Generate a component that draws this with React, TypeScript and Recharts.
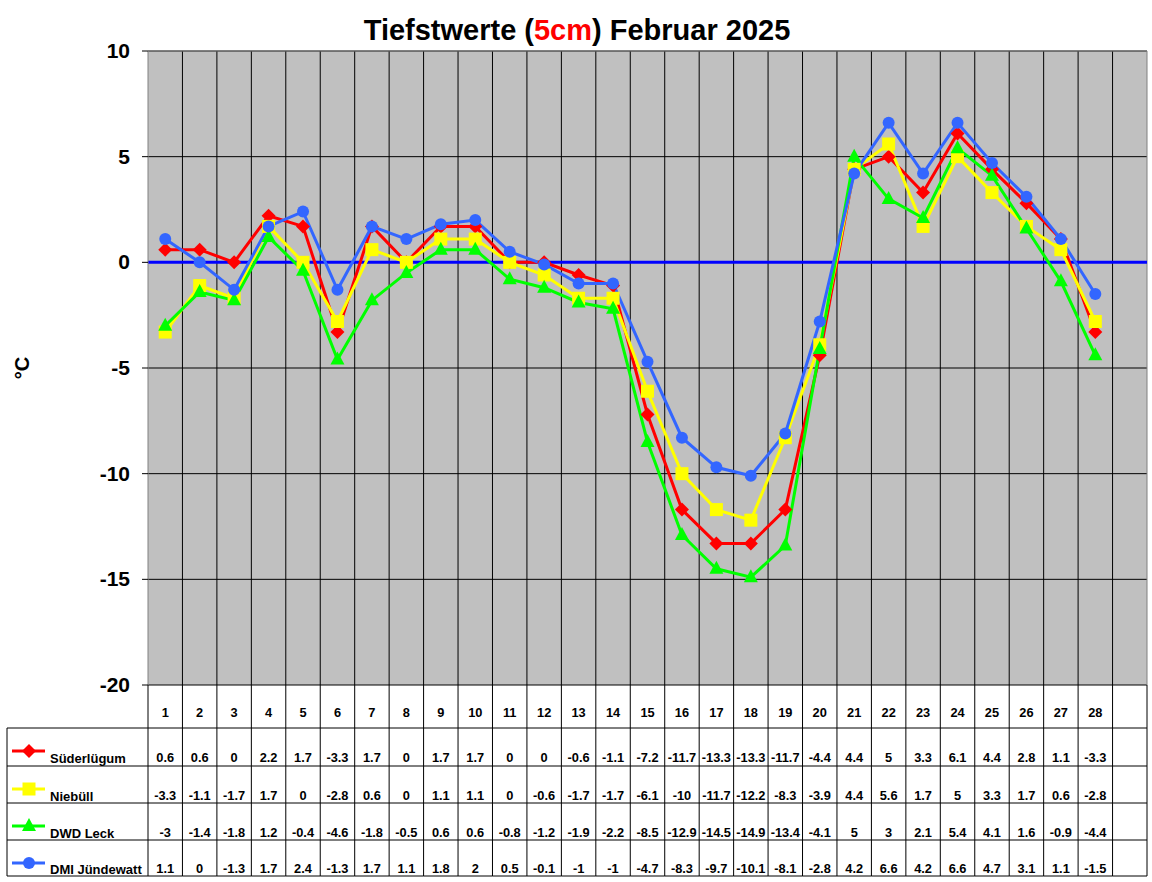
import React from 'react';
import { LineChart, Line, XAxis, YAxis, CartesianGrid, ReferenceLine } from 'recharts';

// ---------- data ----------
const days = [1, 2, 3, 4, 5, 6, 7, 8, 9, 10, 11, 12, 13, 14, 15, 16, 17, 18, 19, 20, 21, 22, 23, 24, 25, 26, 27, 28];
const columns = [...days, 29]; // last empty column of the table
const suederluegum = [0.6, 0.6, 0, 2.2, 1.7, -3.3, 1.7, 0, 1.7, 1.7, 0, 0, -0.6, -1.1, -7.2, -11.7, -13.3, -13.3, -11.7, -4.4, 4.4, 5, 3.3, 6.1, 4.4, 2.8, 1.1, -3.3];
const niebuell = [-3.3, -1.1, -1.7, 1.7, 0, -2.8, 0.6, 0, 1.1, 1.1, 0, -0.6, -1.7, -1.7, -6.1, -10, -11.7, -12.2, -8.3, -3.9, 4.4, 5.6, 1.7, 5, 3.3, 1.7, 0.6, -2.8];
const dwdLeck = [-3, -1.4, -1.8, 1.2, -0.4, -4.6, -1.8, -0.5, 0.6, 0.6, -0.8, -1.2, -1.9, -2.2, -8.5, -12.9, -14.5, -14.9, -13.4, -4.1, 5, 3, 2.1, 5.4, 4.1, 1.6, -0.9, -4.4];
const dmiJuendewatt = [1.1, 0, -1.3, 1.7, 2.4, -1.3, 1.7, 1.1, 1.8, 2, 0.5, -0.1, -1, -1, -4.7, -8.3, -9.7, -10.1, -8.1, -2.8, 4.2, 6.6, 4.2, 6.6, 4.7, 3.1, 1.1, -1.5];
const yTicks = [-20, -15, -10, -5, 0, 5, 10];
const seriesNames = ['Süderlügum', 'Niebüll', 'DWD Leck', 'DMI Jündewatt'];
const seriesKeys = ['s', 'n', 'l', 'j'];
const seriesValues = [suederluegum, niebuell, dwdLeck, dmiJuendewatt];
const seriesColors = ['#FF0000', '#FFFF00', '#00FF00', '#3366FF'];
const seriesShapes = ['diamond', 'square', 'triangle', 'circle'];

const data = days.map((d, i) => ({
  day: d,
  s: suederluegum[i],
  n: niebuell[i],
  l: dwdLeck[i],
  j: dmiJuendewatt[i],
}));

// ---------- layout ----------
const FONT = '"Liberation Sans", Arial, sans-serif';
const CHART_W = 1152;
const CHART_H = 882;
const MARGIN = { top: 51, right: 5, left: 0, bottom: 0 };
const Y_AXIS_W = 148;
const X_AXIS_H = 197;
const PLOT_LEFT = MARGIN.left + Y_AXIS_W;
const PLOT_W = CHART_W - MARGIN.right - PLOT_LEFT;
const PLOT_BOTTOM = CHART_H - MARGIN.bottom - X_AXIS_H;
const COL_W = PLOT_W / columns.length;
const ROW_LINES = [728, 766, 803, 840, 876];
const HEADER_BASE = 717;
const ROW_BASE = [762, 800, 837, 873];
const TABLE_LEFT = 7;

function Marker({ shape, cx, cy, color }: any) {
  if (cx == null || cy == null) return <g />;
  if (shape === 'diamond') {
    const r = 7;
    return <polygon points={`${cx},${cy - r} ${cx + r},${cy} ${cx},${cy + r} ${cx - r},${cy}`} fill={color} />;
  }
  if (shape === 'square') {
    const r = 6.5;
    return <rect x={cx - r} y={cy - r} width={2 * r} height={2 * r} fill={color} />;
  }
  if (shape === 'triangle') {
    return <polygon points={`${cx},${cy - 8} ${cx + 7},${cy + 5} ${cx - 7},${cy + 5}`} fill={color} />;
  }
  return <circle cx={cx} cy={cy} r={6} fill={color} />;
}

function makeDot(shape: string, color: string) {
  return (props: any) => (
    <Marker key={`${shape}-${props.index}`} shape={shape} cx={props.cx} cy={props.cy} color={color} />
  );
}

function TableTick(props: any) {
  const { x, payload } = props;
  const value = payload.value;
  const i = columns.indexOf(value);
  const half = COL_W / 2;
  const left = x - half;
  const right = x + half;
  const isDay = i >= 0 && i < days.length;
  const bottom = ROW_LINES[ROW_LINES.length - 1];
  const textStyle = { fontFamily: FONT, fontWeight: 700, fontSize: 12.8, fill: '#000' };
  return (
    <g>
      {i === 0 && (
        <g>
          <line x1={left} x2={left} y1={PLOT_BOTTOM} y2={bottom} stroke="#000" strokeWidth={1} />
          <line x1={TABLE_LEFT} x2={TABLE_LEFT} y1={ROW_LINES[0]} y2={bottom} stroke="#000" strokeWidth={1} />
          {ROW_LINES.map((y) => (
            <line key={`l${y}`} x1={TABLE_LEFT} x2={left} y1={y} y2={y} stroke="#000" strokeWidth={1} />
          ))}
          {seriesNames.map((name, r) => {
            const my = ROW_LINES[r] + 23;
            return (
              <g key={name}>
                <line x1={TABLE_LEFT + 5} x2={TABLE_LEFT + 38} y1={my} y2={my} stroke={seriesColors[r]} strokeWidth={3} />
                <Marker shape={seriesShapes[r]} cx={TABLE_LEFT + 22} cy={my} color={seriesColors[r]} />
                <text x={TABLE_LEFT + 43} y={ROW_BASE[r] + 1} {...textStyle} fontSize={13}>
                  {name}
                </text>
              </g>
            );
          })}
        </g>
      )}
      <line x1={right} x2={right} y1={PLOT_BOTTOM} y2={bottom} stroke="#000" strokeWidth={1} />
      {ROW_LINES.map((y) => (
        <line key={y} x1={left} x2={right} y1={y} y2={y} stroke="#000" strokeWidth={1} />
      ))}
      {isDay && (
        <text x={x} y={HEADER_BASE} textAnchor="middle" {...textStyle}>
          {value}
        </text>
      )}
      {isDay &&
        seriesValues.map((vals, r) => (
          <text key={r} x={x} y={ROW_BASE[r]} textAnchor="middle" {...textStyle}>
            {String(vals[i])}
          </text>
        ))}
    </g>
  );
}

function YTick(props: any) {
  const { x, y, payload } = props;
  return (
    <text x={x} y={y + 7} textAnchor="end" fontFamily={FONT} fontWeight={700} fontSize={21} fill="#000">
      {payload.value}
    </text>
  );
}

export default function App() {
  const boundaries = columns.slice(0, columns.length - 1).map((c) => c + 0.5);
  return (
    <div style={{ position: 'absolute', left: 0, top: 0, width: CHART_W, height: CHART_H, background: '#fff' }}>
      <svg width={CHART_W} height={CHART_H} style={{ position: 'absolute', left: 0, top: 0 }}>
        <text x={577} y={40} textAnchor="middle" fontFamily={FONT} fontWeight={700} fontSize={29} fill="#000">
          Tiefstwerte (<tspan fill="#FF0000">5cm</tspan>) Februar 2025
        </text>
        <text
          x={0}
          y={0}
          transform="translate(29 368) rotate(-90)"
          textAnchor="middle"
          fontFamily={FONT}
          fontWeight={700}
          fontSize={20}
          fill="#000"
        >
          °C
        </text>
      </svg>
      <div style={{ position: 'absolute', left: 0, top: 0 }}>
        <LineChart width={CHART_W} height={CHART_H} data={data} margin={MARGIN}>
          <CartesianGrid vertical={false} stroke="#000" strokeOpacity={1} fill="#C0C0C0" fillOpacity={1} />
          <XAxis
            dataKey="day"
            type="number"
            domain={[0.5, columns.length + 0.5]}
            ticks={columns}
            interval={0}
            height={X_AXIS_H}
            axisLine={false}
            tickLine={false}
            tick={<TableTick />}
            allowDataOverflow
          />
          <YAxis
            type="number"
            domain={[-20, 10]}
            ticks={yTicks}
            interval={0}
            width={Y_AXIS_W}
            axisLine={{ stroke: '#808080' }}
            tickLine={{ stroke: '#000' }}
            tickSize={6}
            tickMargin={12}
            tick={<YTick />}
          />
          {boundaries.map((b) => (
            <ReferenceLine key={b} x={b} stroke="#000" strokeWidth={1} ifOverflow="extendDomain" />
          ))}
          <ReferenceLine x={columns.length + 0.5} stroke="#808080" strokeWidth={1} />
          <ReferenceLine y={10} stroke="#808080" strokeWidth={1} />
          <ReferenceLine y={0} stroke="#0000FF" strokeWidth={3} />
          {seriesKeys.map((k, r) => (
            <Line
              key={k}
              type="linear"
              dataKey={k}
              name={seriesNames[r]}
              stroke={seriesColors[r]}
              strokeWidth={3}
              dot={makeDot(seriesShapes[r], seriesColors[r])}
              activeDot={false}
              isAnimationActive={false}
            />
          ))}
        </LineChart>
      </div>
    </div>
  );
}
